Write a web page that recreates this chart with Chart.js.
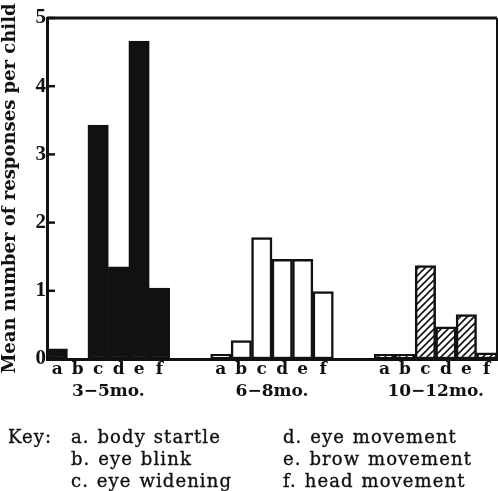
<!DOCTYPE html>
<html>
<head>
<meta charset="utf-8">
<script src="https://cdn.jsdelivr.net/npm/chart.js@4.4.1/dist/chart.umd.min.js"></script>
<style>
  html, body { margin: 0; padding: 0; background: #fff; }
  #wrap { position: relative; width: 498px; height: 491px; overflow: hidden; }
  #chart { position: absolute; left: 0; top: 0; }
  .key { position: absolute; font-family: "DejaVu Serif"; font-size: 18px; color: #111; white-space: nowrap; letter-spacing: 1.1px; word-spacing: 1px; line-height: 20px; -webkit-text-stroke: 0.35px #111; }
</style>
</head>
<body>
<div id="wrap">
  <canvas id="chart" width="498" height="491"></canvas>
  <div class="key" style="left:8px;top:427px">Key:</div>
  <div class="key" style="left:71px;top:427px">a. body startle</div>
  <div class="key" style="left:71px;top:449px">b. eye blink</div>
  <div class="key" style="left:71px;top:471px">c. eye widening</div>
  <div class="key" style="left:283px;top:427px">d. eye movement</div>
  <div class="key" style="left:283px;top:449px">e. brow movement</div>
  <div class="key" style="left:283px;top:471px">f. head movement</div>
</div>
<script>
// response categories (see key) and age groups
const letters = ["a", "b", "c", "d", "e", "f"];
const ageGroups = ["3\u22125mo.", "6\u22128mo.", "10\u221212mo."];

// mean number of responses per child
const young = [0.15, 0, 3.43, 1.35, 4.66, 1.04];    // 3-5 mo.
const middle = [0.07, 0.27, 1.78, 1.46, 1.46, 0.99]; // 6-8 mo.
const older = [0.07, 0.07, 1.37, 0.47, 0.65, 0.09];  // 10-12 mo.

const yTicks = [0, 1, 2, 3, 4, 5];
const GAP = 2; // empty slots between age groups

// build category slots: a..f, gap, a..f, gap, a..f
const labels = [];
ageGroups.forEach((g, i) => {
  if (i > 0) for (let k = 0; k < GAP; k++) labels.push("");
  labels.push(...letters);
});
const slot = (g, j) => g * (letters.length + GAP) + j;
function spread(g, vals) {
  const out = labels.map(() => null);
  vals.forEach((v, j) => { out[slot(g, j)] = v; });
  return out;
}

const ink = "#111";
const canvas = document.getElementById("chart");
const ctx = canvas.getContext("2d");

function hatch() {
  const c = document.createElement("canvas");
  c.width = 7; c.height = 7;
  const g = c.getContext("2d");
  g.fillStyle = "#fff";
  g.fillRect(0, 0, 7, 7);
  g.strokeStyle = ink;
  g.lineWidth = 1.6;
  g.beginPath();
  g.moveTo(0, 7); g.lineTo(7, 0);
  g.moveTo(-1, 1); g.lineTo(1, -1);
  g.moveTo(6, 8); g.lineTo(8, 6);
  g.stroke();
  return ctx.createPattern(c, "repeat");
}

const frame = {
  id: "frame",
  afterDraw(chart) {
    const { ctx, chartArea: a, scales: { x, y } } = chart;
    ctx.save();
    ctx.strokeStyle = ink;
    ctx.lineWidth = 3;
    ctx.beginPath();
    ctx.moveTo(a.left, a.top);
    ctx.lineTo(a.right, a.top);
    ctx.stroke();
    ctx.lineWidth = 2;
    ctx.beginPath();
    ctx.moveTo(a.right, a.top);
    ctx.lineTo(a.right, a.bottom);
    ctx.stroke();
    // inward tick marks
    ctx.lineWidth = 2.5;
    yTicks.forEach((v) => {
      const py = y.getPixelForValue(v);
      ctx.beginPath();
      ctx.moveTo(a.left, py);
      ctx.lineTo(a.left + 8, py);
      ctx.stroke();
    });
    // age group labels under the letters
    ctx.fillStyle = ink;
    ctx.font = "bold 17px 'DejaVu Serif'";
    ctx.textAlign = "center";
    ctx.textBaseline = "middle";
    ageGroups.forEach((g, i) => {
      const cx = (x.getPixelForValue(slot(i, 2)) + x.getPixelForValue(slot(i, 3))) / 2;
      ctx.fillText(g, cx, x.top + 33);
    });
    ctx.restore();
  },
};

const common = {
  borderColor: ink,
  borderWidth: 2.5,
  borderSkipped: false,
  barPercentage: 1,
  categoryPercentage: 1,
  grouped: false,
};

new Chart(canvas, {
  type: "bar",
  data: {
    labels: labels,
    datasets: [
      { ...common, label: ageGroups[0], data: spread(0, young), backgroundColor: ink },
      { ...common, label: ageGroups[1], data: spread(1, middle), backgroundColor: "#fff" },
      { ...common, label: ageGroups[2], data: spread(2, older), backgroundColor: hatch() },
    ],
  },
  options: {
    responsive: false,
    animation: false,
    layout: { padding: { top: 18, right: 1, left: 0, bottom: 82 } },
    plugins: { legend: { display: false }, tooltip: { enabled: false } },
    scales: {
      x: {
        type: "category",
        offset: true,
        grid: { display: false, drawTicks: false },
        border: { color: ink, width: 3 },
        ticks: {
          color: ink,
          font: { family: "DejaVu Serif", size: 17, weight: "bold" },
          padding: 0,
          autoSkip: false,
          maxRotation: 0,
        },
        afterFit: (s) => { s.height = 50; },
      },
      y: {
        min: 0,
        max: 5,
        grid: { display: false, drawTicks: false },
        border: { color: ink, width: 3 },
        afterBuildTicks: (s) => { s.ticks = yTicks.map((v) => ({ value: v })); },
        ticks: {
          color: ink,
          font: { family: "Liberation Serif", size: 21, weight: "bold" },
          padding: 1,
        },
        title: {
          display: true,
          text: "Mean number of responses per child",
          color: ink,
          font: { family: "DejaVu Serif", size: 18, weight: "bold" },
          padding: 0,
        },
        afterFit: (s) => { s.width = 47; },
      },
    },
  },
  plugins: [frame],
});
</script>
</body>
</html>
